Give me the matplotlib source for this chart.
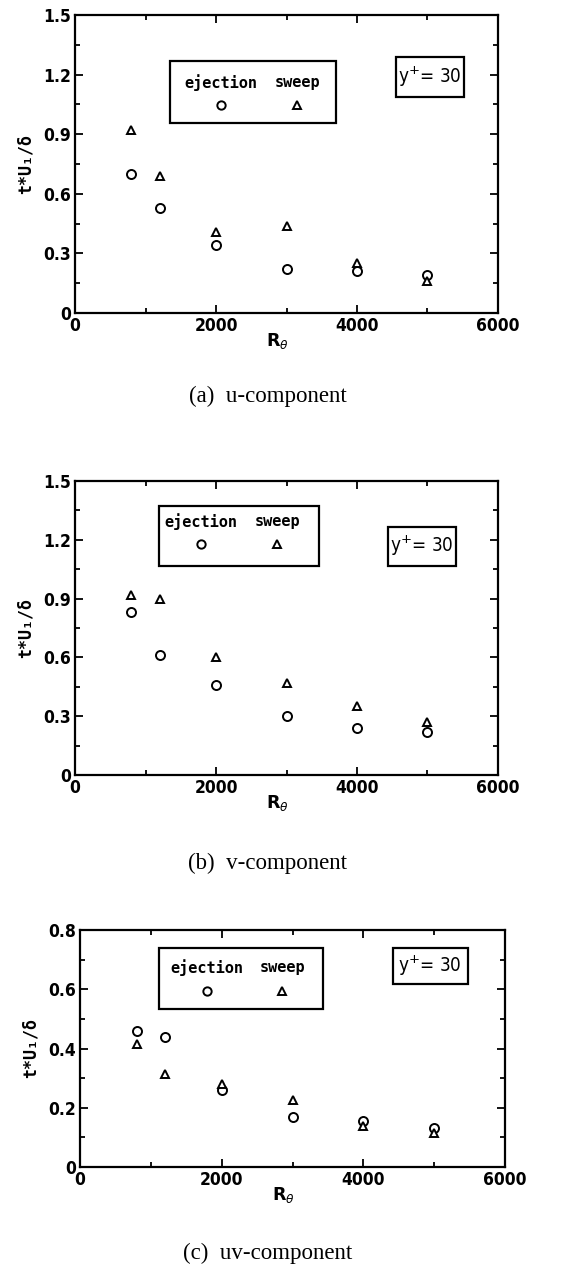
import matplotlib
matplotlib.use("Agg")
import matplotlib.pyplot as plt
from matplotlib.patches import Rectangle
from matplotlib.ticker import MultipleLocator, FuncFormatter

# ---- data ----
re_theta = [800, 1200, 2000, 3000, 4000, 5000]
u_ejection = [0.70, 0.53, 0.34, 0.22, 0.21, 0.19]
u_sweep = [0.92, 0.69, 0.41, 0.44, 0.25, 0.16]
v_ejection = [0.83, 0.61, 0.46, 0.30, 0.24, 0.22]
v_sweep = [0.92, 0.90, 0.60, 0.47, 0.35, 0.27]
uv_ejection = [0.46, 0.44, 0.26, 0.17, 0.155, 0.13]
uv_sweep = [0.415, 0.315, 0.28, 0.225, 0.14, 0.115]
captions = ["(a)  u-component", "(b)  v-component", "(c)  uv-component"]
ylims = [1.5, 1.5, 0.8]
ymajor = [0.3, 0.3, 0.2]
yminor = [0.15, 0.15, 0.1]
xticks = [0, 2000, 4000, 6000]
ylabel = "t*U\u2081/\u03b4"
xlabel = r"R$_\theta$"
series_names = ["ejection", "sweep"]
yplus_text = r"y$^{+}$= 30"

W, H = 586, 1266
fig = plt.figure(figsize=(W / 100, H / 100), dpi=100)

boxes = [(75, 15, 498, 313), (75, 481, 498, 775), (80, 930, 505, 1167)]
legs = [
    (0.225, 0.617, 0.638, 0.846, 0.772, 0.698, 0.345, 0.525),
    (0.199, 0.577, 0.711, 0.915, 0.861, 0.786, 0.297, 0.478),
    (0.186, 0.572, 0.667, 0.924, 0.840, 0.743, 0.298, 0.476),
]
ypl = [
    (0.759, 0.920, 0.725, 0.859, 0.839, 0.792),
    (0.739, 0.901, 0.711, 0.844, 0.820, 0.779),
    (0.737, 0.912, 0.772, 0.924, 0.824, 0.848),
]
caption_y = [396, 863, 1253]
caption_x = 268

data = [(u_ejection, u_sweep), (v_ejection, v_sweep), (uv_ejection, uv_sweep)]

mono = ["DejaVu Sans Mono", "DejaVu Sans"]
tickfont = dict(family="DejaVu Sans", weight="bold", stretch="condensed", size=12.5)

for i in range(3):
    l, t, r, b = boxes[i]
    ax = fig.add_axes([l / W, 1 - b / H, (r - l) / W, (b - t) / H])
    ej, sw = data[i]
    ax.plot(re_theta, ej, linestyle="none", marker="o", markersize=6.5,
            markerfacecolor="white", markeredgecolor="black", markeredgewidth=1.4)
    ax.plot(re_theta, sw, linestyle="none", marker="^", markersize=6,
            markerfacecolor="white", markeredgecolor="black", markeredgewidth=1.4)
    ax.set_xlim(0, 6000)
    ax.set_ylim(0, ylims[i])
    ax.set_xticks(xticks)
    ax.xaxis.set_minor_locator(MultipleLocator(1000))
    ax.yaxis.set_major_locator(MultipleLocator(ymajor[i]))
    ax.yaxis.set_minor_locator(MultipleLocator(yminor[i]))
    ax.yaxis.set_major_formatter(FuncFormatter(lambda v, p: "0" if abs(v) < 1e-9 else f"{v:.1f}"))
    ax.tick_params(which="both", direction="in", top=True, right=True, width=1.3)
    ax.tick_params(which="major", length=6, pad=3)
    ax.tick_params(which="minor", length=3.5)
    for lab in ax.get_xticklabels() + ax.get_yticklabels():
        lab.set_fontproperties(matplotlib.font_manager.FontProperties(**tickfont))
    for s in ax.spines.values():
        s.set_linewidth(1.6)
    ax.set_ylabel(ylabel, family=mono, fontweight="bold", fontsize=12, labelpad=6)
    ax.text(0.478, -0.06 if i < 2 else -0.075, xlabel, transform=ax.transAxes,
            ha="center", va="top", fontsize=12.5, fontweight="bold")

    x0, x1, y0, y1, ty, my, ejx, swx = legs[i]
    ax.add_patch(Rectangle((x0, y0), x1 - x0, y1 - y0, transform=ax.transAxes,
                           fill=False, edgecolor="black", linewidth=1.6))
    ax.text(ejx, ty, series_names[0], transform=ax.transAxes, ha="center", va="center",
            family=mono, fontweight="bold", fontsize=11)
    ax.text(swx, ty, series_names[1], transform=ax.transAxes, ha="center", va="center",
            family=mono, fontweight="bold", fontsize=11)
    ax.plot([ejx], [my], transform=ax.transAxes, marker="o", markersize=6,
            markerfacecolor="white", markeredgecolor="black", markeredgewidth=1.4, clip_on=False)
    ax.plot([swx], [my], transform=ax.transAxes, marker="^", markersize=5.5,
            markerfacecolor="white", markeredgecolor="black", markeredgewidth=1.4, clip_on=False)

    bx0, bx1, by0, by1, tx, tyy = ypl[i]
    ax.add_patch(Rectangle((bx0, by0), bx1 - bx0, by1 - by0, transform=ax.transAxes,
                           fill=False, edgecolor="black", linewidth=1.6))
    ax.text(tx, tyy, yplus_text, transform=ax.transAxes, ha="center", va="center",
            fontsize=13.5, family="DejaVu Sans", stretch="condensed")

    fig.text(caption_x / W, 1 - caption_y[i] / H, captions[i], ha="center", va="center",
             family="Liberation Serif", fontsize=16.5)

fig.savefig("out.png", dpi=100)
